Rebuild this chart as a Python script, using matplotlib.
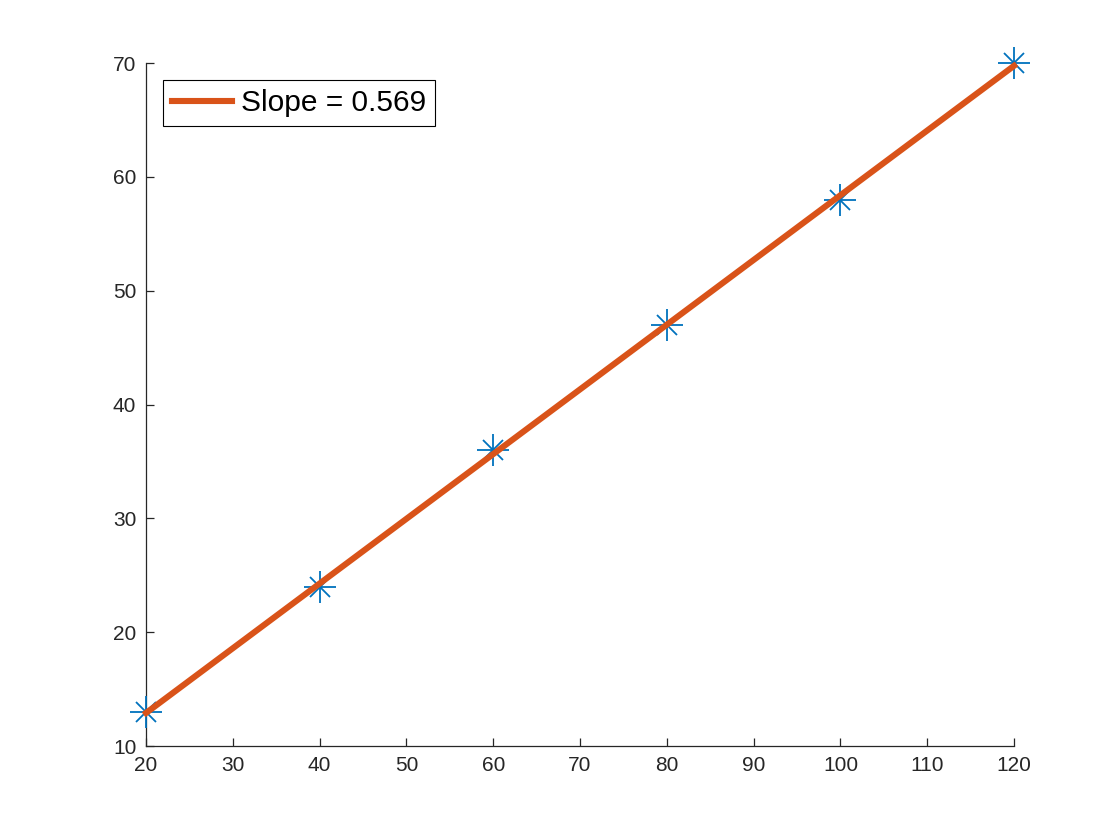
import matplotlib
matplotlib.use('Agg')
import matplotlib.pyplot as plt
import numpy as np

# data
x = np.array([20, 40, 60, 80, 100, 120])
y = np.array([13, 24, 36, 47, 58, 70])

p = np.polyfit(x, y, 1)
xfit = np.array([x.min(), x.max()])
yfit = np.polyval(p, xfit)

plt.rcParams['font.family'] = ['Liberation Sans', 'DejaVu Sans']

fig = plt.figure(figsize=(11.2, 8.4), dpi=100)
ax = fig.add_axes([0.1304, 0.1119, 0.775, 0.813])

blue = '#0072BD'
ax.plot(x, y, linestyle='none', marker='+', markersize=23, mew=1.3, color=blue, clip_on=False, zorder=3)
ax.plot(x, y, linestyle='none', marker='x', markersize=15, mew=1.3, color=blue, clip_on=False, zorder=3)
ax.plot(xfit, yfit, color='#D95319', linewidth=4.4, label='Slope = %.3f' % p[0], clip_on=False, zorder=4)

ax.set_xlim(20, 120)
ax.set_ylim(10, 70)
ax.set_xticks(np.arange(20, 121, 10))
ax.set_yticks(np.arange(10, 71, 10))

for s in ['top', 'right']:
    ax.spines[s].set_visible(False)
for s in ['left', 'bottom']:
    ax.spines[s].set_color('#262626')
    ax.spines[s].set_linewidth(0.9)
ax.tick_params(direction='in', length=6, width=0.9, colors='#262626', labelsize=15, pad=7)

leg = ax.legend(loc='upper left', fontsize=21.5, fancybox=False, framealpha=1,
                edgecolor='black', borderpad=0.3, handlelength=2.0,
                handletextpad=0.3, borderaxespad=0, bbox_to_anchor=(0.0196, 0.975))
leg.get_frame().set_linewidth(0.8)

fig.savefig('out.png', dpi=100)
